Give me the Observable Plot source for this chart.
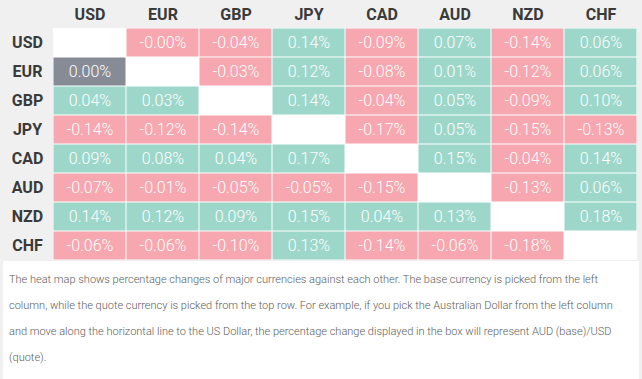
<!DOCTYPE html>
<html>
<head>
<meta charset="utf-8">
<script src="https://cdn.jsdelivr.net/npm/d3@7"></script>
<script src="https://cdn.jsdelivr.net/npm/@observablehq/plot@0.6"></script>
<style>
  html, body { margin: 0; padding: 0; background: #f0f0f0; width: 642px; height: 379px; overflow: hidden; }
  #chart svg { display: block; background: #f0f0f0; }
  #caption {
    margin: 0 3px; background: #ffffff; height: 118px;
    box-sizing: border-box; padding: 6px 6px 0 6px;
    font-family: Roboto, sans-serif; font-weight: 300; font-size: 11px;
    line-height: 26px; color: #5c5c5c;
  }
</style>
</head>
<body>
<div id="chart"></div>
<div id="caption">The heat map shows percentage changes of major currencies against each other. The base currency is picked from the left column, while the quote currency is picked from the top row. For example, if you pick the Australian Dollar from the left column and move along the horizontal line to the US Dollar, the percentage change displayed in the box will represent AUD (base)/USD (quote).</div>
<script>
const currencies = ["USD", "EUR", "GBP", "JPY", "CAD", "AUD", "NZD", "CHF"];
// rows = base currency (left column), columns = quote currency (top row), percent
const USD = [null, -0.001, -0.04, 0.14, -0.09, 0.07, -0.14, 0.06];
const EUR = [0.00, null, -0.03, 0.12, -0.08, 0.01, -0.12, 0.06];
const GBP = [0.04, 0.03, null, 0.14, -0.04, 0.05, -0.09, 0.10];
const JPY = [-0.14, -0.12, -0.14, null, -0.17, 0.05, -0.15, -0.13];
const CAD = [0.09, 0.08, 0.04, 0.17, null, 0.15, -0.04, 0.14];
const AUD = [-0.07, -0.01, -0.05, -0.05, -0.15, null, -0.13, 0.06];
const NZD = [0.14, 0.12, 0.09, 0.15, 0.04, 0.13, null, 0.18];
const CHF = [-0.06, -0.06, -0.10, 0.13, -0.14, -0.06, -0.18, null];

const rows = {USD, EUR, GBP, JPY, CAD, AUD, NZD, CHF};
const all = [];
const data = [];
for (const base of currencies) {
  rows[base].forEach((v, i) => {
    all.push({base, quote: currencies[i]});
    if (v !== null) data.push({base, quote: currencies[i], value: v,
      sign: v > 0 ? "up" : v < 0 ? "down" : "flat"});
  });
}

const chart = Plot.plot({
  width: 642,
  height: 261,
  marginLeft: 53,
  marginRight: 5,
  marginTop: 28,
  marginBottom: 1,
  style: {fontFamily: "Roboto, sans-serif", background: "#f0f0f0"},
  x: {domain: currencies, padding: 0, axis: null},
  y: {domain: currencies, padding: 0, axis: null},
  color: {domain: ["up", "down", "flat"], range: ["#9dd7ca", "#f6a7af", "#878b96"]},
  marks: [
    Plot.cell(all, {x: "quote", y: "base", fill: "#ffffff", inset: 0}),
    Plot.cell(data, {x: "quote", y: "base", fill: "sign", inset: 0.5}),
    Plot.text(data, {x: "quote", y: "base", text: d => d.value.toFixed(2) + "%",
      fill: "#ffffff", fontSize: 16, fontWeight: 300}),
    Plot.axisX({anchor: "top", tickSize: 0, tickPadding: 14, lineAnchor: "middle",
      fontSize: 16, fontWeight: "bold", color: "#3a3a3a", label: null}),
    Plot.axisY({anchor: "left", tickSize: 0, tickPadding: 26, textAnchor: "middle",
      fontSize: 16, fontWeight: "bold", color: "#3a3a3a", label: null})
  ]
});
document.getElementById("chart").append(chart);
</script>
</body>
</html>
